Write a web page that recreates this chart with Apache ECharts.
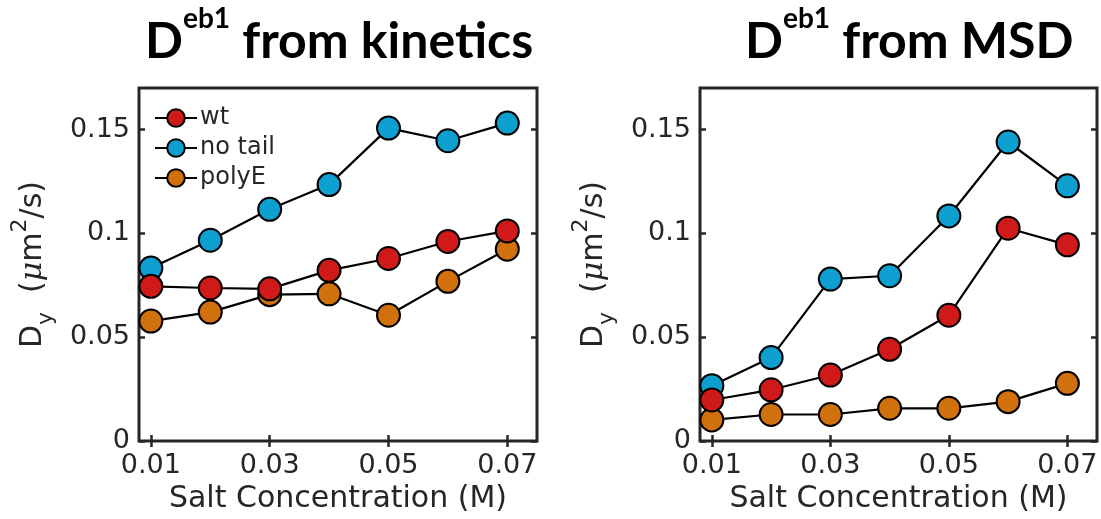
<!DOCTYPE html>
<html>
<head>
<meta charset="utf-8">
<script src="https://cdn.jsdelivr.net/npm/echarts@6/dist/echarts.min.js"></script>
<style>
  html, body { margin: 0; padding: 0; background: #fff; }
  #chart { width: 1101px; height: 519px; }
</style>
</head>
<body>
<div id="chart"></div>
<script>
// 盐浓度 (M)
var salt = [0.01, 0.02, 0.03, 0.04, 0.05, 0.06, 0.07];
var xTicks = [0.01, 0.03, 0.05, 0.07];
var yTicks = [0, 0.05, 0.1, 0.15];

// kinetics 面板
var kinWt     = [0.0745, 0.0737, 0.0733, 0.0822, 0.0879, 0.0961, 0.1012];
var kinNoTail = [0.0833, 0.0967, 0.1116, 0.1235, 0.1507, 0.1446, 0.1531];
var kinPolyE  = [0.0578, 0.0621, 0.0705, 0.0709, 0.0606, 0.0769, 0.0924];

// MSD 面板
var msdWt     = [0.0198, 0.0247, 0.0318, 0.0442, 0.0606, 0.1025, 0.0945];
var msdNoTail = [0.0267, 0.0402, 0.0780, 0.0796, 0.1084, 0.1440, 0.1229];
var msdPolyE  = [0.0102, 0.0128, 0.0128, 0.0158, 0.0158, 0.0190, 0.0278];

var names = ['wt', 'no tail', 'polyE'];
var colors = ['#d01a1a', '#0c9fd0', '#d0710e'];

var INK = '#262626';
var FONT = 'DejaVu Sans';

function pairs(ys) {
    return salt.map(function (x, i) { return [x, ys[i]]; });
}

// 轴：底/左带标签，顶/右只镜像刻度
function xAxisOf(grid, pos) {
    var bottom = pos === 'bottom';
    return {
        type: 'value', gridIndex: grid, position: pos,
        min: 0.008, max: 0.075,
        name: bottom ? 'Salt Concentration (M)' : '',
        nameLocation: 'middle', nameGap: 38,
        nameTextStyle: {fontFamily: FONT, fontSize: 30, color: INK},
        axisLine: {show: false},
        splitLine: {show: false},
        axisTick: {show: true, inside: true, length: 6, customValues: xTicks,
            lineStyle: {color: INK, width: 2.5}},
        axisLabel: {show: bottom, customValues: xTicks, margin: 11,
            fontFamily: FONT, fontSize: 27, color: INK,
            formatter: function (v) { return v.toFixed(2); }}
    };
}

function yAxisOf(grid, pos) {
    var left = pos === 'left';
    return {
        type: 'value', gridIndex: grid, position: pos,
        min: 0, max: 0.17,
        name: left ? '{d|D}{sub|y}{d|  (}{mu|μ}{d|m}{sup|2}{d|/s)}' : '',
        nameLocation: 'middle', nameGap: 82, nameRotate: 90,
        nameTextStyle: {
            color: INK,
            rich: {
                d: {fontFamily: FONT, fontSize: 30, color: INK, lineHeight: 48, verticalAlign: 'middle'},
                mu: {fontFamily: 'DejaVu Serif', fontStyle: 'italic', fontSize: 30, color: INK, lineHeight: 48, verticalAlign: 'middle'},
                sub: {fontFamily: FONT, fontSize: 22, color: INK, lineHeight: 22, verticalAlign: 'bottom'},
                sup: {fontFamily: FONT, fontSize: 22, color: INK, lineHeight: 22, verticalAlign: 'top'}
            }
        },
        axisLine: {show: false},
        splitLine: {show: false},
        axisTick: {show: true, inside: true, length: 6, customValues: yTicks,
            lineStyle: {color: INK, width: 2.5}},
        axisLabel: {show: left, customValues: yTicks, margin: 9,
            fontFamily: FONT, fontSize: 27, color: INK,
            formatter: function (v) { return v === 0 ? '0' : String(+v.toFixed(2)); }}
    };
}

function lineSeries(idx, grid, ys) {
    return {
        type: 'line', name: names[idx],
        xAxisIndex: grid * 2, yAxisIndex: grid * 2,
        data: pairs(ys),
        symbol: 'circle', symbolSize: 23,
        lineStyle: {color: '#000', width: 2.2},
        itemStyle: {color: colors[idx], borderColor: '#000', borderWidth: 2},
        z: 3 - idx,
        animation: false
    };
}

function titleOf(left, rest) {
    return {
        left: left, top: 0,
        text: '{d|D}{s|eb1}{t|' + rest + '}',
        textStyle: {
            rich: {
                d: {fontFamily: 'Lato', fontWeight: 'bold', fontSize: 50, color: '#000', lineHeight: 62, verticalAlign: 'bottom'},
                s: {fontFamily: 'Lato', fontWeight: 'bold', fontSize: 28, color: '#000', lineHeight: 40, verticalAlign: 'top'},
                t: {fontFamily: 'Lato', fontWeight: 'bold', fontSize: 50, color: '#000', lineHeight: 62, verticalAlign: 'bottom'}
            }
        }
    };
}

var chart = echarts.init(document.getElementById('chart'));
chart.setOption({
    backgroundColor: '#fff',
    animation: false,
    title: [titleOf(140, ' from kinetics'), titleOf(740, ' from MSD')],
    legend: {
        left: 154, top: 106, orient: 'vertical', padding: 0,
        itemWidth: 42, itemHeight: 22, itemGap: 6,
        data: names,
        textStyle: {fontFamily: FONT, fontSize: 24, color: INK, padding: [0, 0, 0, -2]}
    },
    grid: [
        {left: 139, top: 88, width: 398, height: 356, show: true, borderColor: INK, borderWidth: 3, backgroundColor: 'transparent'},
        {left: 700, top: 88, width: 397, height: 356, show: true, borderColor: INK, borderWidth: 3, backgroundColor: 'transparent'}
    ],
    xAxis: [xAxisOf(0, 'bottom'), xAxisOf(0, 'top'), xAxisOf(1, 'bottom'), xAxisOf(1, 'top')],
    yAxis: [yAxisOf(0, 'left'), yAxisOf(0, 'right'), yAxisOf(1, 'left'), yAxisOf(1, 'right')],
    series: [
        lineSeries(0, 0, kinWt),
        lineSeries(1, 0, kinNoTail),
        lineSeries(2, 0, kinPolyE),
        lineSeries(0, 1, msdWt),
        lineSeries(1, 1, msdNoTail),
        lineSeries(2, 1, msdPolyE)
    ]
});
</script>
</body>
</html>
